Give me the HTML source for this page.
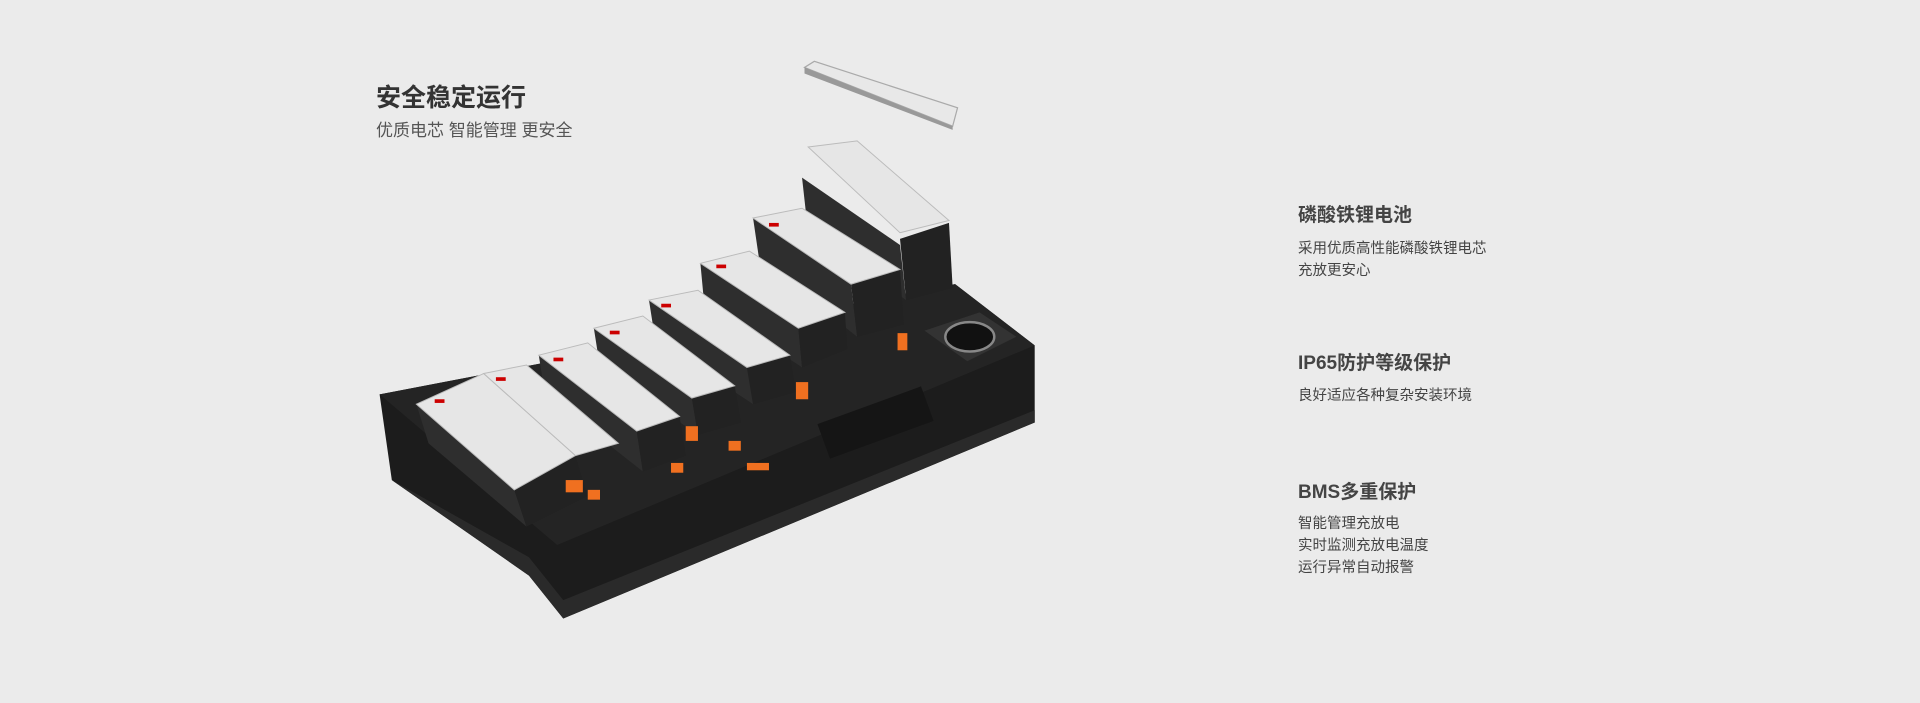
<!DOCTYPE html>
<html><head><meta charset="utf-8"><style>
html,body{margin:0;padding:0}
body{width:1920px;height:703px;background:#ebebeb;position:relative;overflow:hidden;font-family:"Liberation Sans","Noto Sans CJK SC",sans-serif}
.t{position:absolute;white-space:nowrap}
.h1{font-size:25px;font-weight:bold;color:#333;left:376px;top:78px}
.s1{font-size:17px;color:#555;left:376px;top:116px}
.h{font-size:19px;font-weight:bold;color:#444;left:1298px}
.b{font-size:14.5px;color:#444;left:1298px;line-height:22px}
svg{position:absolute;left:0;top:0}
</style></head><body>
<svg width="1920" height="703" viewBox="0 0 1568 574">
<!-- tray -->
<polygon points="310,322 780,232 845,282 845,345 460,505 432,470 320,392" fill="#1c1c1c"/>
<polygon points="320,392 432,470 460,505 845,345 845,335 460,490 432,455" fill="#2a2a2a"/>
<polygon points="310,322 780,232 845,282 455,445" fill="#242424"/>
<!-- speaker box -->
<polygon points="755,270 800,255 830,275 790,295" fill="#333"/>
<ellipse cx="792" cy="275" rx="20" ry="12" fill="#111" stroke="#888" stroke-width="2"/>
<!-- modules: side faces -->
<g fill="#2e2e2e">
<polygon points="340,330 420,400 430,430 350,362"/>
<polygon points="395,305 470,372 480,405 405,340"/>
<polygon points="440,290 520,352 525,385 445,322"/>
<polygon points="485,268 565,325 570,355 490,300"/>
<polygon points="530,245 610,300 615,330 535,277"/>
<polygon points="572,215 652,268 655,300 575,247"/>
<polygon points="615,178 695,232 700,275 620,212"/>
<polygon points="655,145 735,200 740,245 660,190"/>
</g>
<g fill="#222">
<polygon points="420,400 470,372 480,405 430,430"/>
<polygon points="520,352 555,340 560,372 525,385"/>
<polygon points="565,325 600,315 605,345 570,355"/>
<polygon points="610,300 645,290 650,320 615,330"/>
<polygon points="652,268 690,255 692,285 655,300"/>
<polygon points="695,232 735,220 738,265 700,275"/>
<polygon points="735,195 775,182 778,235 740,245"/>
</g>
<!-- modules: top faces -->
<g fill="#e6e6e6" stroke="#bbb" stroke-width="0.8">
<polygon points="340,330 395,305 470,372 420,400"/>
<polygon points="395,305 430,298 505,362 470,372"/>
<polygon points="440,290 480,280 555,340 520,352"/>
<polygon points="485,268 525,258 600,315 565,325"/>
<polygon points="530,245 570,237 645,290 610,300"/>
<polygon points="572,215 612,205 690,255 652,268"/>
<polygon points="615,178 655,170 735,220 695,232"/>
<polygon points="660,120 700,115 775,180 735,190"/>
</g>
<g fill="#c00"><rect x="355" y="326" width="8" height="3"/><rect x="405" y="308" width="8" height="3"/><rect x="452" y="292" width="8" height="3"/><rect x="498" y="270" width="8" height="3"/><rect x="540" y="248" width="8" height="3"/><rect x="585" y="216" width="8" height="3"/><rect x="628" y="182" width="8" height="3"/></g>
<!-- top plate -->
<polygon points="657,55 665,50 782,88 778,103" fill="#e8e8e8" stroke="#aaa" stroke-width="1"/>
<polygon points="657,55 778,103 778,106 657,60" fill="#999"/>
<!-- orange connectors -->
<g fill="#f07020">
<rect x="462" y="392" width="14" height="10"/><rect x="480" y="400" width="10" height="8"/>
<rect x="560" y="348" width="10" height="12"/><rect x="548" y="378" width="10" height="8"/>
<rect x="595" y="360" width="10" height="8"/><rect x="610" y="378" width="18" height="6"/>
<rect x="650" y="312" width="10" height="14"/><rect x="733" y="272" width="8" height="14"/>
</g>
<rect x="670" y="330" width="90" height="30" fill="#151515" transform="rotate(-20 715 345)"/>
</svg>
<div class="t h1">安全稳定运行</div>
<div class="t s1">优质电芯 智能管理 更安全</div>
<div class="t h" style="top:200px">磷酸铁锂电池</div>
<div class="t b" style="top:238px">采用优质高性能磷酸铁锂电芯<br>充放更安心</div>
<div class="t h" style="top:348px">IP65防护等级保护</div>
<div class="t b" style="top:385px">良好适应各种复杂安装环境</div>
<div class="t h" style="top:477px">BMS多重保护</div>
<div class="t b" style="top:513px">智能管理充放电<br>实时监测充放电温度<br>运行异常自动报警</div>
</body></html>
